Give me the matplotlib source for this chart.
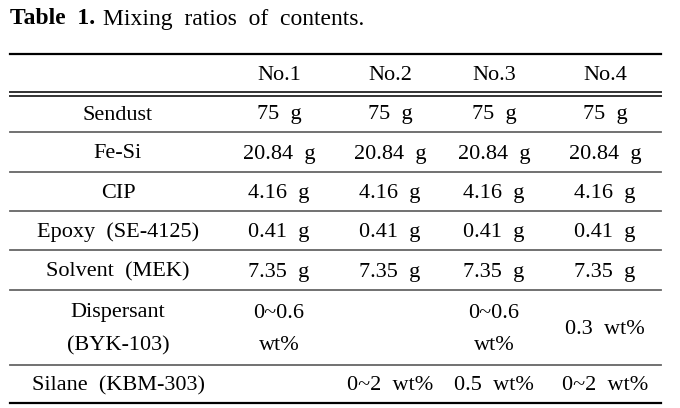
import matplotlib.pyplot as plt

# Table content
title_bold = "Table  1."
title_rest = "Mixing  ratios  of  contents."
col_headers = ["No.1", "No.2", "No.3", "No.4"]
row_labels = ["Sendust", "Fe-Si", "CIP", "Epoxy  (SE-4125)", "Solvent  (MEK)",
              "Dispersant\n(BYK-103)", "Silane  (KBM-303)"]
cells = [
    ["75  g", "75  g", "75  g", "75  g"],
    ["20.84  g", "20.84  g", "20.84  g", "20.84  g"],
    ["4.16  g", "4.16  g", "4.16  g", "4.16  g"],
    ["0.41  g", "0.41  g", "0.41  g", "0.41  g"],
    ["7.35  g", "7.35  g", "7.35  g", "7.35  g"],
    ["0~0.6\nwt%", "", "0~0.6\nwt%", "0.3  wt%"],
    ["", "0~2  wt%", "0.5  wt%", "0~2  wt%"],
]

# layout (pixels)
col_x = [118, 279, 390, 494, 605]
row_edges = [54, 94, 132, 172, 211, 250, 290, 365, 403]
x0, x1 = 10, 661

plt.rcParams['font.family'] = ['Liberation Serif', 'DejaVu Serif']
fs = 16

fig = plt.figure(figsize=(6.8, 4.08), dpi=100)
ax = fig.add_axes([0, 0, 1, 1])
ax.set_xlim(0, 680)
ax.set_ylim(408, 0)
ax.axis("off")

# title
t = ax.text(10, 19, title_bold, fontsize=17, fontweight="bold", va="center", ha="left")
fig.canvas.draw()
bb = t.get_window_extent().transformed(ax.transData.inverted())
ax.text(bb.x1 + 8, 19, title_rest, fontsize=17, va="center", ha="left")

# rules
ax.plot([x0, x1], [row_edges[0]] * 2, color="black", lw=1.6)
ax.plot([x0, x1], [row_edges[1] - 2] * 2, color="#333333", lw=1.4)
ax.plot([x0, x1], [row_edges[1] + 1.5] * 2, color="#333333", lw=1.4)
for y in row_edges[2:-1]:
    ax.plot([x0, x1], [y, y], color="#666666", lw=1.3)
ax.plot([x0, x1], [row_edges[-1]] * 2, color="black", lw=1.6)

# header
hy = (row_edges[0] + row_edges[1]) / 2 + 1
for cx, h in zip(col_x[1:], col_headers):
    ax.text(cx, hy, h, fontsize=fs, ha="center", va="center")

# body
for i, (lab, vals) in enumerate(zip(row_labels, cells)):
    cy = (row_edges[i + 1] + row_edges[i + 2]) / 2 + 2
    ax.text(col_x[0], cy, lab, fontsize=fs, ha="center", va="center", linespacing=2.0)
    for cx, v in zip(col_x[1:], vals):
        ax.text(cx, cy, v, fontsize=fs, ha="center", va="center", linespacing=2.0)

fig.savefig("out.png", dpi=100)
